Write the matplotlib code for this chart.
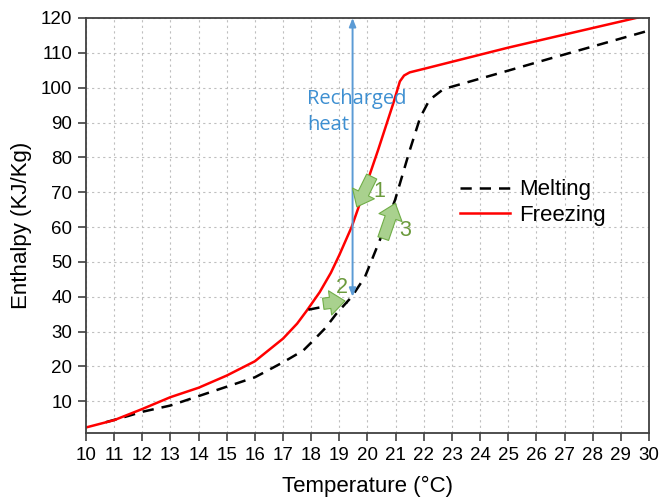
import matplotlib.pyplot as plt

# datos
t_freeze = [10.0, 11.0, 12.0, 13.0, 14.0, 15.0, 16.0, 17.0, 17.5, 17.85, 18.3, 18.7,
            19.0, 19.44, 19.67, 20.0, 20.38, 20.92, 21.15, 21.3, 21.5, 22.0, 25.0, 29.8]
h_freeze = [2.5, 4.6, 7.8, 11.2, 13.9, 17.4, 21.5, 28.0, 32.3, 36.1, 41.3, 46.9,
            52.0, 60.1, 65.4, 73.2, 82.2, 95.6, 101.8, 103.5, 104.4, 105.4, 111.5, 120.5]

t_melt = [10.7, 11.5, 12.0, 13.0, 14.0, 15.0, 16.0, 17.0, 17.72, 18.08, 18.5, 18.9,
          19.44, 19.91, 20.44, 20.98, 21.5, 21.87, 22.2, 22.7, 23.0, 25.0, 26.5, 30.0]
h_melt = [4.0, 5.8, 7.0, 8.8, 11.5, 14.2, 16.9, 21.2, 24.6, 27.5, 31.0, 35.2,
          40.0, 45.7, 56.3, 67.8, 82.0, 91.4, 96.5, 99.6, 100.3, 104.9, 108.4, 116.4]

# tramo corto entre curvas (flecha 2)
t_link = [17.9, 19.3]
h_link = [36.3, 38.5]

# flechas verdes: (cola, punta, etiqueta, posicion etiqueta)
flechas = [
    ((20.15, 74.5), (19.62, 65.8), "1", (20.42, 70.2)),
    ((18.43, 38.0), (19.2, 38.8), "2", (19.08, 42.8)),
    ((20.56, 56.7), (20.99, 66.8), "3", (21.34, 59.0)),
]

plt.rcParams['font.family'] = ['Liberation Sans', 'DejaVu Sans']

fig = plt.figure(figsize=(6.64, 5.0), dpi=100)
ax = fig.add_axes([0.1295, 0.1346, 0.8479, 0.8294])

ax.plot(t_melt, h_melt, color='black', linestyle=(0, (4.5, 3.2)), linewidth=1.8, label='Melting')
ax.plot(t_freeze, h_freeze, color='#ff0000', linewidth=1.8, label='Freezing')
ax.plot(t_link, h_link, color='black', linestyle=(0, (4.5, 3.2)), linewidth=1.8)

# flecha azul de calor recargado
ax.annotate('', xy=(19.47, 120), xytext=(19.47, 40),
            arrowprops=dict(arrowstyle='<|-|>,head_length=0.5,head_width=0.2',
                            color='#5b9bd5', lw=1.4, shrinkA=0, shrinkB=0),
            annotation_clip=False)
ax.text(17.85, 93.0, "Recharged\nheat", color='#3d8fd1', fontsize=14.5,
        family=['Open Sans', 'DejaVu Sans'], ha='left', va='center', linespacing=1.35)

for cola, punta, lab, pos in flechas:
    ax.annotate('', xy=punta, xytext=cola,
                arrowprops=dict(arrowstyle='simple,head_length=0.8,head_width=1.3,tail_width=0.6',
                                fc='#a9d18e', ec='#70ad47', lw=0.8, shrinkA=0, shrinkB=0,
                                mutation_scale=13.5))
    ax.text(pos[0], pos[1], lab, color='#6b9a3c', fontsize=15.5, ha='center', va='center')

ax.set_xlim(10, 30)
ax.set_ylim(1, 120)
ax.set_xticks(range(10, 31))
ax.set_yticks(range(10, 121, 10))
ax.grid(True, color='#bfbfbf', linestyle=(0, (2, 3)), linewidth=0.8)
ax.tick_params(direction='out', length=6, width=1.2, color='#404040', labelsize=13.5, pad=4)
for s in ax.spines.values():
    s.set_color('#404040')
    s.set_linewidth(1.3)

ax.set_xlabel("Temperature (°C)", fontsize=16, labelpad=9)
ax.set_ylabel("Enthalpy (KJ/Kg)", fontsize=16, labelpad=6)

leg = ax.legend(loc='center left', bbox_to_anchor=(0.629, 0.555), frameon=False,
                fontsize=16, handlelength=2.25, handletextpad=0.4, labelspacing=0.2)

plt.savefig('out.png', dpi=100)
